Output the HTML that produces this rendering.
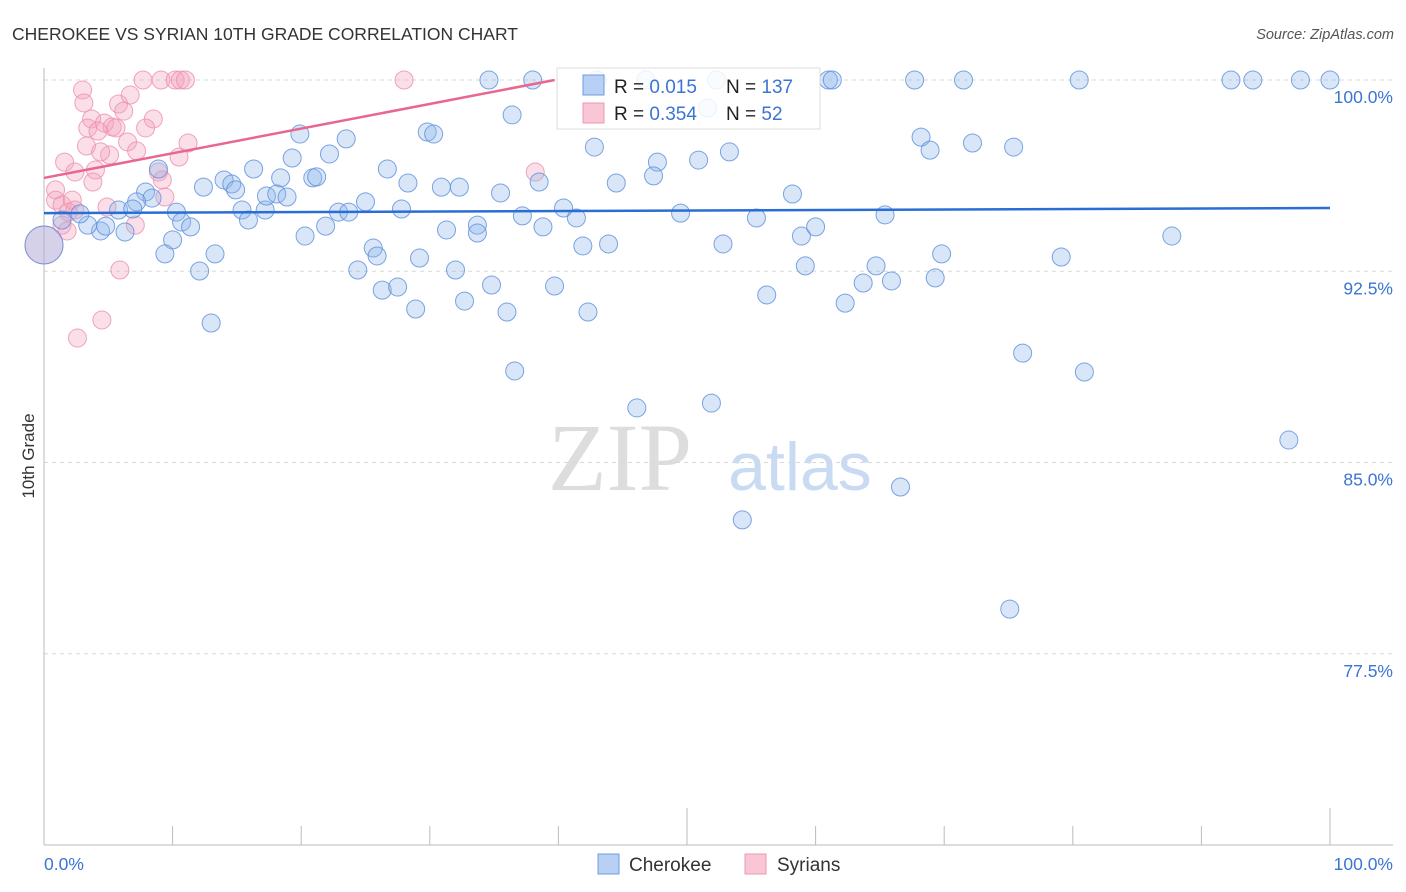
<!DOCTYPE html>
<html><head><meta charset="utf-8"><style>
body{margin:0;background:#fff;font-family:"Liberation Sans",sans-serif;}
#wrap{position:relative;width:1406px;height:892px;overflow:hidden;}
</style></head><body>
<div id="wrap">
<svg id="chart" width="1406" height="892">
<text x="12" y="40" font-size="17.5" fill="#333">CHEROKEE VS SYRIAN 10TH GRADE CORRELATION CHART</text>
<text x="1394" y="39" font-size="14.5" fill="#555" font-style="italic" text-anchor="end">Source: ZipAtlas.com</text>
<text x="620" y="490" font-size="96" fill="#ddd" font-family="Liberation Serif,serif" text-anchor="middle">ZIP</text>
<text x="800" y="490" font-size="68" fill="#c9daf3" text-anchor="middle">atlas</text>
<g id="grid"></g>
<g id="axes"></g>
<g id="pts"></g>
<g id="trend"></g>
<text transform="translate(34,456) rotate(-90)" font-size="17" fill="#333" text-anchor="middle">10th Grade</text>
<g>
<rect x="557" y="68" width="263" height="61" fill="#fff" fill-opacity="0.85" stroke="#ddd"/>
<rect x="583" y="75" width="21" height="20" fill="#b7d0f3" stroke="#6f9de0"/>
<rect x="583" y="103" width="21" height="20" fill="#f9c6d5" stroke="#ec98b2"/>
<text x="614" y="93" font-size="19" fill="#222">R = <tspan fill="#3b74d4">0.015</tspan></text>
<text x="726" y="93" font-size="19" fill="#222">N = <tspan fill="#3b74d4">137</tspan></text>
<text x="614" y="120" font-size="19" fill="#222">R = <tspan fill="#3b74d4">0.354</tspan></text>
<text x="726" y="120" font-size="19" fill="#222">N = <tspan fill="#3b74d4"> 52</tspan></text>
</g>
<g>
<rect x="598" y="854" width="21" height="20" fill="#b7d0f3" stroke="#6f9de0"/>
<text x="629" y="871" font-size="19" fill="#333">Cherokee</text>
<rect x="745" y="854" width="21" height="20" fill="#f9c6d5" stroke="#ec98b2"/>
<text x="777" y="871" font-size="19" fill="#333">Syrians</text>
</g>
</svg>
</div>
<script>
const blueX=[34.6,38.0,52.3,61.0,61.3,67.7,71.5,80.5,92.3,94.0,97.7,100,46.8,43.0,51.6,36.4,19.9,29.8,30.3,23.5,42.8,53.3,47.7,50.9,47.4,68.2,68.9,72.2,75.4,16.3,19.3,22.2,26.7,38.5,44.5,28.3,30.9,32.3,35.5,14.0,14.6,14.9,12.4,18.4,20.9,21.2,8.9,7.9,8.4,7.2,5.8,6.9,4.4,3.4,2.8,1.4,4.8,6.3,10.3,10.7,11.4,10.0,9.4,12.1,13.3,13.0,15.4,15.9,17.2,17.3,18.1,18.9,20.3,21.9,22.9,23.7,25.0,27.8,25.6,25.9,24.4,26.3,27.5,29.2,28.9,31.3,33.7,33.7,32.0,32.7,34.8,36.0,36.6,37.2,38.8,40.4,41.4,41.9,43.9,39.7,42.3,46.1,49.5,52.8,55.4,51.9,56.2,58.2,58.9,59.2,60.0,62.3,63.7,64.7,65.4,65.9,66.6,54.3,69.3,69.8,75.1,76.1,79.1,80.9,87.7,96.8,0];
const blueY=[100,100,100,100,100,100,100,100,100,100,100,100,100,100,98.9,98.63,97.88,97.96,97.88,97.69,97.37,97.18,96.78,96.86,96.24,97.76,97.25,97.53,97.37,96.51,96.94,97.10,96.51,96.00,95.96,95.96,95.80,95.80,95.57,96.08,95.92,95.69,95.80,96.16,96.16,96.20,96.51,95.61,95.37,95.22,94.90,94.94,94.08,94.31,94.75,94.51,94.27,94.04,94.82,94.43,94.24,93.73,93.18,92.51,93.18,90.47,94.90,94.51,94.90,95.45,95.53,95.41,93.88,94.27,94.82,94.82,95.22,94.94,93.41,93.10,92.55,91.76,91.88,93.02,91.02,94.12,94.31,94.00,92.55,91.33,91.96,90.90,88.59,94.67,94.24,94.98,94.59,93.49,93.57,91.92,90.90,87.14,94.78,93.57,94.59,87.33,91.57,95.53,93.88,92.71,94.24,91.25,92.04,92.71,94.71,92.12,84.04,82.75,92.24,93.18,79.25,89.29,93.06,88.55,93.88,85.88,93.53];
const pinkX=[3.0,3.1,7.7,9.1,10.2,10.6,11.0,28.0,5.8,6.7,6.2,8.5,3.7,4.7,5.3,3.4,4.2,7.9,5.6,11.2,6.5,3.3,7.2,5.1,4.4,1.6,2.4,4.0,8.9,9.2,10.5,3.8,38.2,0.9,0.9,1.4,2.2,9.4,4.9,1.9,2.4,1.4,1.8,7.1,5.9,4.5,2.6,0];
const pinkY=[99.61,99.10,100,100,100,100,100,100,99.06,99.41,98.78,98.47,98.47,98.31,98.16,98.12,98.00,98.12,98.12,97.53,97.57,97.41,97.22,97.06,97.18,96.78,96.39,96.47,96.39,96.08,96.98,96.00,96.39,95.69,95.29,95.10,95.29,95.41,95.02,94.82,94.90,94.31,94.08,94.31,92.55,90.59,89.88,93.53];
const blueTrend=[94.78,94.98];
const pinkTrend=[96.16,9.67];
const yTicks=[100,92.5,85,77.5];
const yTickLabels=["100.0%","92.5%","85.0%","77.5%"];
const ns="http://www.w3.org/2000/svg";
const X=v=>44+v*12.86;
const Y=v=>80+(100-v)*25.5;
function mk(t,a,p){const e=document.createElementNS(ns,t);for(const k in a)e.setAttribute(k,a[k]);document.getElementById(p).appendChild(e);return e;}
yTicks.forEach((t,i)=>{
 const l=mk('line',{x1:44,x2:1393,y1:Y(t),y2:Y(t),stroke:'#d8d8d8','stroke-dasharray':'4,4'},'grid');
 
 
 const tx=mk('text',{x:1393,y:Y(t)+23,'font-size':17.5,fill:'#3b74d4','text-anchor':'end'},'grid');
 tx.textContent=yTickLabels[i];
 
 
});
const ax=mk('line',{x1:44,x2:1393,y1:845,y2:845,stroke:'#bbb'},'axes');


const ay=mk('line',{x1:44,x2:44,y1:68,y2:845,stroke:'#bbb'},'axes');


for(let i=0;i<=10;i++){
 const tall=(i==0||i==5||i==10);
 const tk=mk('line',{x1:X(i*10),x2:X(i*10),y1:tall?808:826,y2:845,stroke:'#bbb'},'axes');
 
 
}
const xl0=mk('text',{x:44,y:870,'font-size':17.5,fill:'#3b74d4'},'axes');xl0.textContent='0.0%';


const xl1=mk('text',{x:1393,y:870,'font-size':17.5,fill:'#3b74d4','text-anchor':'end'},'axes');xl1.textContent='100.0%';


function pts(xs,ys,fill,stroke,name){
 xs.forEach((x,i)=>{
  const big=(i==xs.length-1);
  const c=mk('circle',{cx:X(x),cy:Y(ys[i]),r:big?19:9,fill:fill,'fill-opacity':0.35,stroke:stroke,'stroke-opacity':0.8,'stroke-width':1},'pts');
  
  
 });
}
pts(pinkX,pinkY,'#f4a3bc','#ec8fab','syrians-point');
pts(blueX,blueY,'#8fb6ec','#5b8fdc','cherokee-point');
const bl=mk('line',{x1:X(0),y1:Y(blueTrend[0]),x2:X(100),y2:Y(blueTrend[1]),stroke:'#2a6dd5','stroke-width':2.5},'trend');


const xEnd=Math.min(100,(100-pinkTrend[0])/pinkTrend[1]*100);
const pl=mk('line',{x1:X(0),y1:Y(pinkTrend[0]),x2:X(xEnd),y2:Y(pinkTrend[0]+pinkTrend[1]*xEnd/100),stroke:'#e8668f','stroke-width':2.5},'trend');


</script>
</body></html>
